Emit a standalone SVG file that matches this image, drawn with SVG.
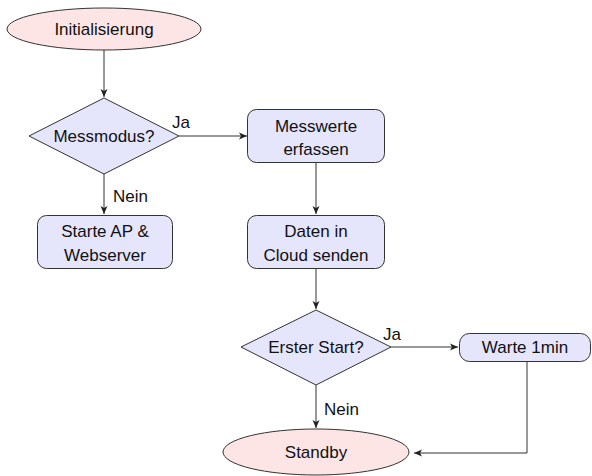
<svg xmlns="http://www.w3.org/2000/svg" width="592" height="476" viewBox="0 0 592 476">
<defs>
<marker id="arr" markerWidth="10" markerHeight="8" refX="8" refY="4" orient="auto" markerUnits="userSpaceOnUse">
<path d="M0,0.5 L8,4 L0,7.5 L2,4 Z" fill="#222"/>
</marker>
</defs>
<style>
.term{fill:#fde5e5;stroke:#333;stroke-width:1}
.proc{fill:#e5e5fc;stroke:#333;stroke-width:1}
.edge{fill:none;stroke:#333;stroke-width:1;marker-end:url(#arr)}
text{font-family:"Liberation Sans","Open Sans",sans-serif;font-size:17px;fill:#111}
.c{text-anchor:middle}
</style>
<rect width="592" height="476" fill="#fff"/>
<g id="connectors">
<path class="edge" d="M104,50 L104,97"/>
<path class="edge" d="M179,136 L247,136"/>
<path class="edge" d="M104,174 L104,214"/>
<path class="edge" d="M316,163 L316,214"/>
<path class="edge" d="M316,268 L316,309"/>
<path class="edge" d="M391,347 L458,347"/>
<path class="edge" d="M316,385 L316,428"/>
<path class="edge" d="M527,362 L527,453 L414,453"/>
<text x="172" y="128">Ja</text>
<text x="113" y="202">Nein</text>
<text x="383" y="340">Ja</text>
<text x="324" y="415">Nein</text>
</g>
<g id="init">
<ellipse class="term" cx="104" cy="29" rx="97" ry="21"/>
<text class="c" x="104" y="35">Initialisierung</text>
</g>
<g id="messmodus">
<polygon class="proc" points="104,98 179,136 104,174 29,136"/>
<text class="c" x="104" y="142">Messmodus?</text>
</g>
<g id="messwerte">
<rect class="proc" x="247.5" y="109.5" width="137" height="53" rx="9"/>
<text class="c" x="316" y="132">Messwerte</text>
<text class="c" x="316" y="155">erfassen</text>
</g>
<g id="starte">
<rect class="proc" x="37.5" y="215.5" width="135" height="53" rx="9"/>
<text class="c" x="105" y="237">Starte AP &amp;</text>
<text class="c" x="105" y="261">Webserver</text>
</g>
<g id="daten">
<rect class="proc" x="247.5" y="215.5" width="137" height="53" rx="9"/>
<text class="c" x="316" y="237">Daten in</text>
<text class="c" x="316" y="261">Cloud senden</text>
</g>
<g id="erster">
<polygon class="proc" points="316,310 391,347 316,385 241,347"/>
<text class="c" x="316" y="353">Erster Start?</text>
</g>
<g id="warte">
<rect class="proc" x="459.5" y="333.5" width="131" height="28" rx="10"/>
<text class="c" x="525" y="353">Warte 1min</text>
</g>
<g id="standby">
<ellipse class="term" cx="316" cy="452" rx="93" ry="23"/>
<text class="c" x="316" y="458">Standby</text>
</g>
</svg>
